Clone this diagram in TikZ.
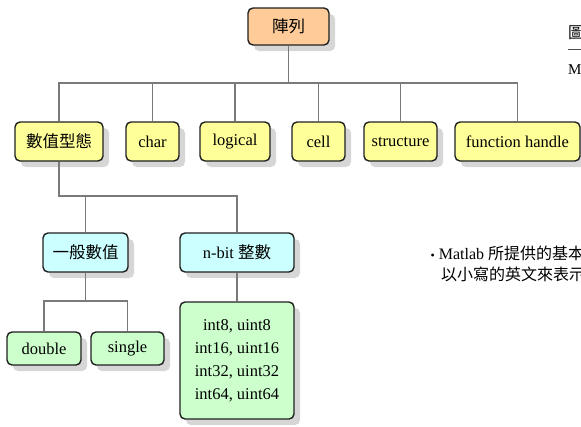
\documentclass[tikz,border=0pt]{standalone}
\usepackage{fontspec}
\setmainfont{Liberation Serif}
\newfontfamily\cjk{Noto Sans CJK TC}
\usetikzlibrary{shadows}
\definecolor{orng}{HTML}{FFCC99}
\definecolor{ylw}{HTML}{FFFF99}
\definecolor{cyn}{HTML}{CCFFFF}
\definecolor{grn}{HTML}{CCFFCC}
\definecolor{conn}{HTML}{7A7A7A}
\definecolor{bord}{HTML}{202020}
\definecolor{shd}{HTML}{D6D6D6}
\tikzset{
  box/.style={draw=bord, line width=1.4pt, rounded corners=5pt, inner sep=0pt,
    align=center, font=\fontsize{16.5}{23}\selectfont,
    drop shadow={shadow xshift=6pt, shadow yshift=-6pt, fill=shd, opacity=1}},
  conline/.style={draw=conn, line width=1.9pt},
  plain/.style={anchor=west, inner sep=0pt, font=\fontsize{16}{20}\selectfont},
}
\begin{document}
\begin{tikzpicture}[x=1pt,y=-1pt]
\useasboundingbox (0,0) rectangle (581,426);
\clip (0,0) rectangle (581,426);
% nodes
\node[box, fill=orng, minimum width=81pt, minimum height=37pt] (arr) at (288.5,26.5) {\cjk 陣列};
\node[box, fill=ylw, minimum width=88pt, minimum height=39pt] (num) at (59,141.5) {\cjk 數值型態};
\node[box, fill=ylw, minimum width=53pt, minimum height=39pt] (chr) at (152.5,141.5) {char};
\node[box, fill=ylw, minimum width=70pt, minimum height=39pt] (lgc) at (235,141.5) {logical};
\node[box, fill=ylw, minimum width=53pt, minimum height=39pt] (cel) at (318.5,141.5) {cell};
\node[box, fill=ylw, minimum width=73pt, minimum height=39pt] (str) at (400.5,141.5) {structure};
\node[box, fill=ylw, minimum width=125pt, minimum height=39pt] (fh) at (517.5,141.5) {function handle};
\node[box, fill=cyn, minimum width=85pt, minimum height=39pt] (gen) at (85.5,252.5) {\cjk 一般數值};
\node[box, fill=cyn, minimum width=114pt, minimum height=39pt] (nb) at (237,252.5) {n-bit {\cjk 整數}};
\node[box, fill=grn, minimum width=74pt, minimum height=33pt] (dbl) at (44,348.5) {double};
\node[box, fill=grn, minimum width=73pt, minimum height=33pt] (sgl) at (127.5,348.5) {single};
\node[box, fill=grn, minimum width=114pt, minimum height=117pt] (ints) at (237,360.5) {int8, uint8\\int16, uint16\\int32, uint32\\int64, uint64};
% connectors
\coordinate (busA) at (288.5,83);
\coordinate (busB) at (59,196);
\coordinate (busC) at (85.5,301);
\foreach \c in {num,chr,lgc,cel,str,fh}
  \draw[conline] (arr.south) -- (busA) -| (\c.north);
\foreach \c in {gen,nb}
  \draw[conline] (num.south) -- (busB) -| (\c.north);
\foreach \c in {dbl,sgl}
  \draw[conline] (gen.south) -- (busC) -| (\c.north);
\draw[conline] (nb.south) -- (ints.north);
% right side texts
\node[plain] (t1) at (430.5,253) {{\fontsize{12}{12}\selectfont\textbullet}\kern4pt Matlab {\cjk 所提供的基本}};
\node[plain] (t2) at (441,274) {\cjk 以小寫的英文來表示};
\node[plain] (t3) at (568,33) {\cjk 圖};
\coordinate (ln1) at (568,49);
\coordinate (ln2) at (581,49);
\draw[line width=0.8pt, draw=black!70] (ln1) -- (ln2);
\node[plain, font=\fontsize{15}{20}\selectfont] (t4) at (568,70) {M};
\end{tikzpicture}
\end{document}
